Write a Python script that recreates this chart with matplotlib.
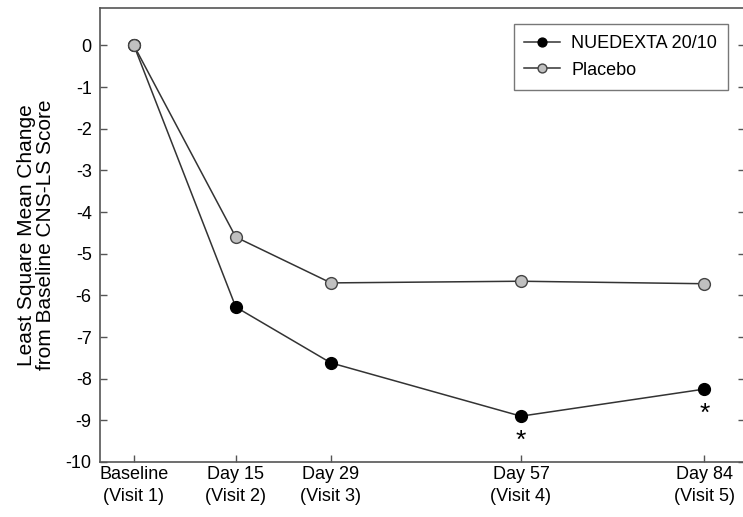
import matplotlib.pyplot as plt

# Datos
dias = [0, 15, 29, 57, 84]
etiquetas = ['Baseline\n(Visit 1)', 'Day 15\n(Visit 2)', 'Day 29\n(Visit 3)',
             'Day 57\n(Visit 4)', 'Day 84\n(Visit 5)']
nuedexta = [0, -6.28, -7.62, -8.9, -8.25]
placebo = [0, -4.6, -5.7, -5.66, -5.72]
asteriscos_x = [57, 84]
asteriscos_y = [-9.5, -8.85]

plt.rcParams['font.family'] = ['Liberation Sans', 'DejaVu Sans']

fig = plt.figure(figsize=(7.43, 5.17), dpi=100)
ax = fig.add_axes([100 / 743, 55 / 517, 645 / 743, 454 / 517])

gris = '#333333'
ax.plot(dias, nuedexta, '-o', color=gris, lw=1.1, markersize=8.5,
        markerfacecolor='black', markeredgecolor='black', label='NUEDEXTA 20/10', zorder=3)
ax.plot(dias, placebo, '-o', color=gris, lw=1.1, markersize=8.5,
        markerfacecolor='#c0c0c0', markeredgecolor='#444444', label='Placebo', zorder=4)

for x, y in zip(asteriscos_x, asteriscos_y):
    ax.text(x, y, '*', ha='center', va='center', fontsize=19)

ax.set_xlim(-5, 90)
ax.set_ylim(-10, 0.9)
ax.set_xticks(dias)
ax.set_xticklabels(etiquetas, fontsize=13, linespacing=1.4)
ax.set_yticks(range(-10, 1))
ax.set_yticklabels([str(v) for v in range(-10, 1)], fontsize=13)
ax.tick_params(direction='in', length=5, color='#555555', width=1)
ax.tick_params(axis='y', right=True, pad=6)
ax.tick_params(axis='x', pad=3)
for s in ax.spines.values():
    s.set_color('#555555')
    s.set_linewidth(1.2)

ax.set_ylabel('Least Square Mean Change\nfrom Baseline CNS-LS Score', fontsize=15,
              labelpad=8, linespacing=0.95)

leg = ax.legend(loc='upper right', bbox_to_anchor=(628 / 645, 1 - 16 / 454),
                borderaxespad=0, fontsize=13, frameon=True, fancybox=False,
                borderpad=0.6, handlelength=2.0, handletextpad=0.6,
                labelspacing=0.55, markerscale=0.75)
leg.get_frame().set_edgecolor('#555555')
leg.get_frame().set_linewidth(1)

plt.savefig('out.png', dpi=100)
